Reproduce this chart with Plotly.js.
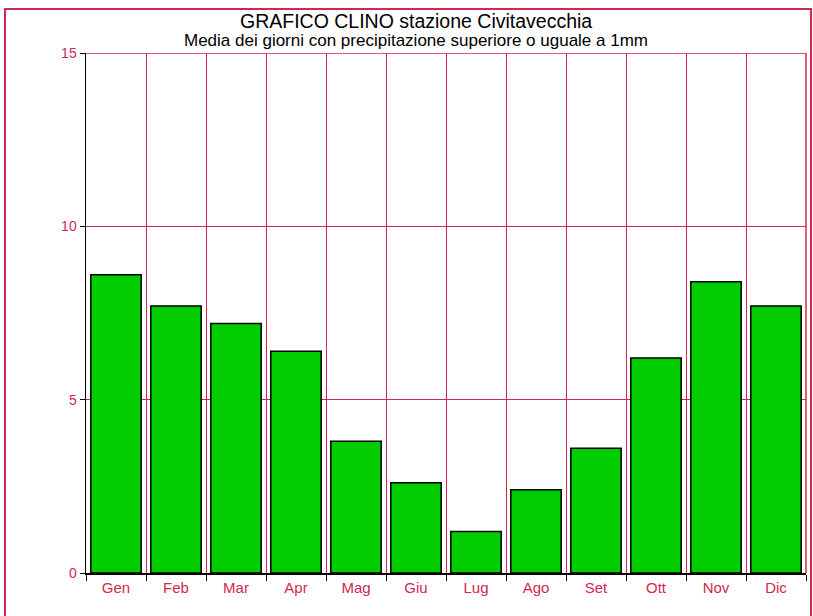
<!DOCTYPE html>
<html><head><meta charset="utf-8">
<script src="https://cdn.plot.ly/plotly-3.0.1.min.js"></script>
<style>html,body{margin:0;padding:0;background:#fff;}#chart{width:813px;height:616px;}</style>
</head><body><div id="chart"></div>
<script>
const months = ["Gen","Feb","Mar","Apr","Mag","Giu","Lug","Ago","Set","Ott","Nov","Dic"];
const rainyDays = [8.6,7.7,7.2,6.4,3.8,2.6,1.2,2.4,3.6,6.2,8.4,7.7];
const yTicks = [0,5,10,15];
const titleText = "GRAFICO CLINO stazione Civitavecchia";
const subtitleText = "Media dei giorni con precipitazione superiore o uguale a 1mm";

const red = "#d0284f";
const trace = {
  type: "bar", x: months, y: rainyDays,
  marker: {color: "#00cc00", line: {color: "#000", width: 1.5}},
  hoverinfo: "x+y"
};
const layout = {
  width: 813, height: 616,
  margin: {l: 86, r: 7, t: 53, b: 43},
  paper_bgcolor: "#fff", plot_bgcolor: "#fff",
  font: {family: "Liberation Sans, Arial, sans-serif"},
  bargap: 0.16,
  showlegend: false,
  xaxis: {type: "category", tickson: "boundaries", range: [-0.5, 11.5],
    showgrid: true, gridcolor: red, gridwidth: 1,
    ticks: "outside", ticklen: 6, tickcolor: "#000", tickwidth: 1,
    showline: true, linecolor: "#000", linewidth: 1.5,
    tickfont: {size: 15, color: red}, zeroline: false, fixedrange: true},
  yaxis: {range: [0, 15], tickvals: yTicks, ticktext: yTicks.map(String),
    showgrid: true, gridcolor: red, gridwidth: 1,
    ticks: "outside", ticklen: 5, tickcolor: "#000", tickwidth: 1,
    showline: true, linecolor: "#000", linewidth: 1.5, zeroline: false,
    tickfont: {size: 14, color: red}, fixedrange: true},
  annotations: [
    {text: titleText, xref: "paper", yref: "paper", x: (416 - 86) / 720, y: (573 - 21) / 520,
     xanchor: "center", yanchor: "middle", showarrow: false, font: {size: 19.5, color: "#000"}},
    {text: subtitleText, xref: "paper", yref: "paper", x: (416 - 86) / 720, y: (573 - 40) / 520,
     xanchor: "center", yanchor: "middle", showarrow: false, font: {size: 17, color: "#000"}}
  ],
  shapes: [
    {type: "rect", xref: "paper", yref: "paper", x0: -0.1125, x1: 1.0069, y0: -0.1, y1: 1.0846,
     line: {color: red, width: 2}, layer: "below"},
    {type: "line", xref: "paper", yref: "paper", x0: 1, x1: 1, y0: 0, y1: 1,
     line: {color: red, width: 1.5}, layer: "below"},
    {type: "line", xref: "paper", yref: "y", x0: 0, x1: 1, y0: 15, y1: 15,
     line: {color: red, width: 1.5}, layer: "below"}
  ]
};
Plotly.newPlot("chart", [trace], layout, {displayModeBar: false, staticPlot: true});
</script></body></html>
